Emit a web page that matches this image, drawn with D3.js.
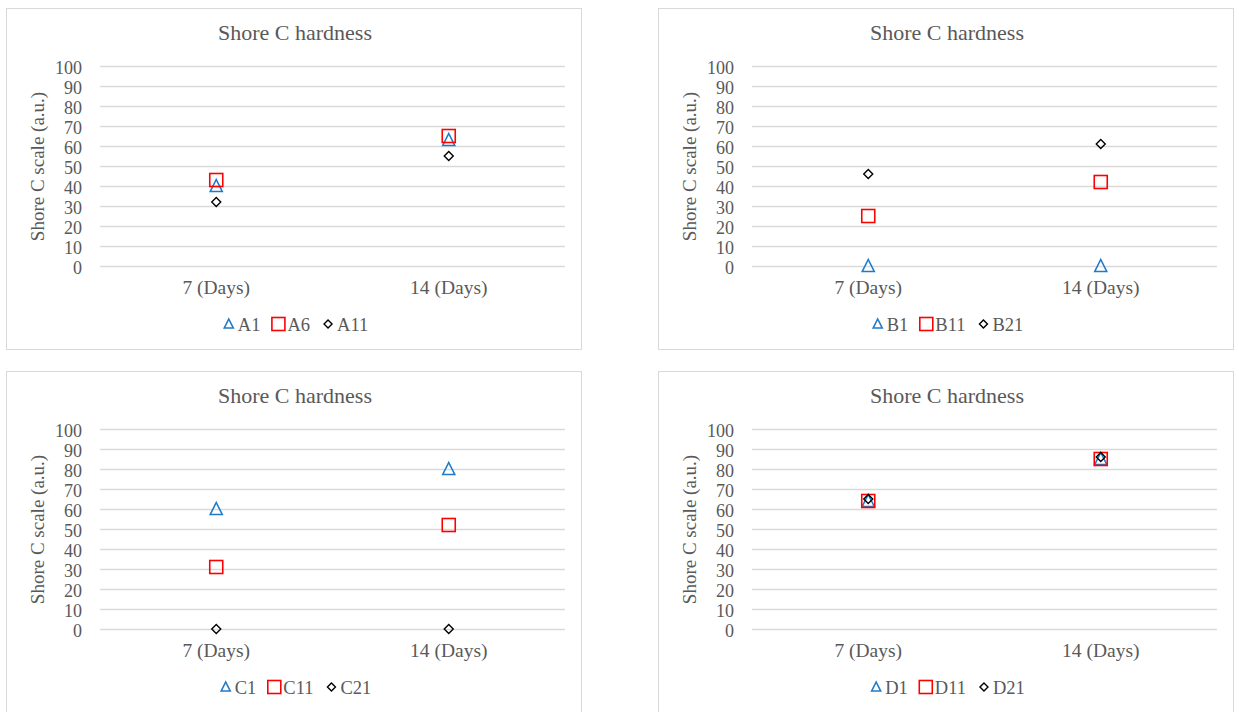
<!DOCTYPE html>
<html><head><meta charset="utf-8">
<script src="https://cdn.jsdelivr.net/npm/d3@7"></script>
<style>body{margin:0;background:#fff;} text{font-family:"Liberation Serif","Times New Roman",serif;fill:#595959;}</style>
</head><body>
<svg id="c" width="1239" height="712"></svg>
<script>
const categories = ["7 (Days)", "14 (Days)"];
const yTicks = [0,10,20,30,40,50,60,70,80,90,100];
const chartTitle = "Shore C hardness";
const yTitle = "Shore C scale (a.u.)";

const seriesNamesA = ["A1","A6","A11"];
const valuesA1 = [40, 63];
const valuesA6 = [43, 65];
const valuesA11 = [32, 55];

const seriesNamesB = ["B1","B11","B21"];
const valuesB1 = [0, 0];
const valuesB11 = [25, 42];
const valuesB21 = [46, 61];

const seriesNamesC = ["C1","C11","C21"];
const valuesC1 = [60, 80];
const valuesC11 = [31, 52];
const valuesC21 = [0, 0];

const seriesNamesD = ["D1","D11","D21"];
const valuesD1 = [64, 85];
const valuesD11 = [64, 85];
const valuesD21 = [65, 86];

const markerTypes = ["triangle","square","diamond"];
const markerColors = ["#1F7BC8","#FF0000","#000000"];

const panels = [
  {x:6, y:8, names:seriesNamesA, vals:[valuesA1,valuesA6,valuesA11]},
  {x:658, y:8, names:seriesNamesB, vals:[valuesB1,valuesB11,valuesB21]},
  {x:6, y:371, names:seriesNamesC, vals:[valuesC1,valuesC11,valuesC21]},
  {x:658, y:371, names:seriesNamesD, vals:[valuesD1,valuesD11,valuesD21]}
];

const svg = d3.select("#c");
const PW = 575, PH = 341;

function marker(g, type, color, cx, cy, small) {
  if (type === "triangle") {
    const hw = small ? 4.5 : 6, ht = small ? 5 : 6.5;
    g.append("path").attr("d", `M${cx},${cy-ht} L${cx+hw},${cy+ht-1} L${cx-hw},${cy+ht-1} Z`)
      .attr("fill","none").attr("stroke",color).attr("stroke-width",1.6);
  } else if (type === "square") {
    g.append("rect").attr("x",cx-6.5).attr("y",cy-6.5).attr("width",13).attr("height",13)
      .attr("fill","none").attr("stroke",color).attr("stroke-width",1.6);
  } else {
    const r = small ? 4 : 4.5;
    g.append("path").attr("d", `M${cx},${cy-r} L${cx+r},${cy} L${cx},${cy+r} L${cx-r},${cy} Z`)
      .attr("fill","none").attr("stroke",color).attr("stroke-width",1.4);
  }
}

panels.forEach(p => {
  const g = svg.append("g").attr("transform",`translate(${p.x},${p.y})`);
  g.append("rect").attr("x",0.5).attr("y",0.5).attr("width",PW).attr("height",PH)
    .attr("fill","#fff").attr("stroke","#D9D9D9").attr("stroke-width",1);
  const left = 94, right = 559, top = 58, bottom = 258;
  const x = d3.scaleBand().domain(categories).range([left,right]);
  const y = d3.scaleLinear().domain([0,100]).range([bottom,top]);

  g.append("text").attr("x",289).attr("y",32).attr("text-anchor","middle")
    .attr("font-size",22).text(chartTitle);

  const yAxis = g.append("g").attr("transform",`translate(${left},0)`)
    .call(d3.axisLeft(y).tickValues(yTicks).tickSize(-(right-left)).tickPadding(18));
  yAxis.select(".domain").remove();
  yAxis.selectAll("line").attr("stroke","#D9D9D9").attr("stroke-width",1.5);
  yAxis.selectAll("text").attr("font-size",18).attr("fill","#595959").attr("dy","0.4em")
    .style("font-family","Liberation Serif");

  const xAxis = g.append("g").attr("transform",`translate(0,${bottom})`)
    .call(d3.axisBottom(x).tickSize(0).tickPadding(14));
  xAxis.select(".domain").remove();
  xAxis.selectAll("text").attr("font-size",19.5).attr("fill","#595959")
    .style("font-family","Liberation Serif");

  g.append("text").attr("transform",`translate(37.5,${(top+bottom)/2 + 0.5}) rotate(-90)`)
    .attr("text-anchor","middle").attr("font-size",19).text(yTitle);

  p.vals.forEach((vals, si) => {
    vals.forEach((v, ci) => {
      marker(g, markerTypes[si], markerColors[si], x(categories[ci]) + x.bandwidth()/2, y(v), false);
    });
  });

  // legend
  const legendY = 317;
  const lg = g.append("g");
  let cx = 0;
  p.names.forEach((n, i) => {
    const it = lg.append("g");
    marker(it, markerTypes[i], markerColors[i], cx + 7, legendY - 1, true);
    const t = it.append("text").attr("x", cx + 16).attr("y", legendY + 6)
      .attr("font-size",18.5).text(n);
    const w = t.node().getComputedTextLength();
    cx += 16 + w + 11;
  });
  const total = cx - 11;
  lg.attr("transform",`translate(${289 - total/2},0)`);
});
</script>
</body></html>
